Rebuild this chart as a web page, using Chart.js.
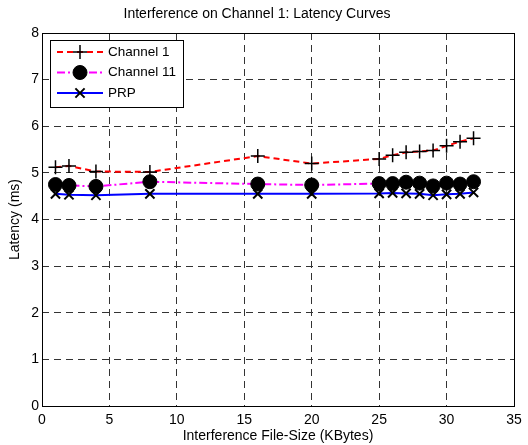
<!DOCTYPE html>
<html>
<head>
<meta charset="utf-8">
<script src="https://cdn.jsdelivr.net/npm/chart.js@4"></script>
<style>
  html, body { margin: 0; padding: 0; background: #fff; }
  #wrap { width: 528px; height: 445px; }
</style>
</head>
<body>
<div id="wrap"><canvas id="latencyChart" width="528" height="445"></canvas></div>
<script>
// file sizes (KBytes)
let fileSizes = [1, 2, 4, 8, 16, 20, 25, 26, 27, 28, 29, 30, 31, 32];
// latency values (ms)
let channel1 = [5.12, 5.15, 5.03, 5.02, 5.36, 5.2, 5.3, 5.38, 5.44, 5.46, 5.48, 5.58, 5.67, 5.74];
let channel11 = [4.75, 4.73, 4.71, 4.81, 4.76, 4.74, 4.77, 4.77, 4.8, 4.78, 4.72, 4.78, 4.76, 4.81];
let prp = [4.55, 4.53, 4.52, 4.55, 4.55, 4.55, 4.56, 4.57, 4.56, 4.55, 4.52, 4.54, 4.55, 4.58];
let seriesNames = ['Channel 1', 'Channel 11', 'PRP'];

let xTicks = [0, 5, 10, 15, 20, 25, 30, 35];
let yTicks = [0, 1, 2, 3, 4, 5, 6, 7, 8];

const FONT = 'Liberation Sans, Arial, sans-serif';

function pts(ys) {
  return fileSizes.map((x, i) => ({ x: x, y: ys[i] }));
}

// marker in black, like the plotted points
function marker(ctx, ds, x, y) {
  ctx.save();
  ctx.strokeStyle = '#000';
  ctx.fillStyle = '#000';
  ctx.lineWidth = ds.pointBorderWidth;
  Chart.helpers.drawPoint(ctx, { pointStyle: ds.pointStyle, radius: ds.pointRadius, borderWidth: ds.pointBorderWidth, rotation: 0 }, x, y);
  ctx.restore();
}

// box around plot area + legend with line samples and markers
const boxAndLegend = {
  id: 'boxAndLegend',
  afterDraw(chart) {
    const ctx = chart.ctx;
    const a = chart.chartArea;
    ctx.save();
    ctx.strokeStyle = '#000';
    ctx.lineWidth = 1;
    ctx.setLineDash([]);
    ctx.strokeRect(a.left + 0.5, a.top + 0.5, a.right - a.left, a.bottom - a.top);

    const lx = a.left + 8, ly = a.top + 7, lw = 133, lh = 67;
    ctx.fillStyle = '#fff';
    ctx.fillRect(lx, ly, lw, lh);
    ctx.strokeRect(lx + 0.5, ly + 0.5, lw, lh);
    ctx.font = '13.5px ' + FONT;
    ctx.textBaseline = 'middle';
    chart.data.datasets.forEach((ds, i) => {
      const yy = ly + 12 + i * 20.5;
      ctx.strokeStyle = ds.borderColor;
      ctx.lineWidth = ds.borderWidth;
      ctx.setLineDash(ds.borderDash || []);
      ctx.beginPath();
      ctx.moveTo(lx + 7, yy);
      ctx.lineTo(lx + 53, yy);
      ctx.stroke();
      ctx.setLineDash([]);
      marker(ctx, ds, lx + 30, yy);
      ctx.fillStyle = '#000';
      ctx.fillText(ds.label, lx + 58, yy);
    });
    ctx.restore();
  }
};

new Chart(document.getElementById('latencyChart').getContext('2d'), {
  type: 'line',
  data: {
    datasets: [{
      label: seriesNames[0],
      data: pts(channel1),
      borderColor: '#ff0000',
      borderWidth: 2,
      borderDash: [6, 4],
      pointStyle: 'cross',
      pointRadius: 7,
      pointBorderWidth: 1.5,
      pointBorderColor: '#000',
      pointBackgroundColor: '#000'
    }, {
      label: seriesNames[1],
      data: pts(channel11),
      borderColor: '#ff00ff',
      borderWidth: 2,
      borderDash: [8, 3, 2, 3],
      pointStyle: 'circle',
      pointRadius: 7,
      pointBorderWidth: 1,
      pointBorderColor: '#000',
      pointBackgroundColor: '#000'
    }, {
      label: seriesNames[2],
      data: pts(prp),
      borderColor: '#0000ff',
      borderWidth: 2,
      borderDash: [],
      pointStyle: 'crossRot',
      pointRadius: 6.5,
      pointBorderWidth: 2,
      pointBorderColor: '#000',
      pointBackgroundColor: '#000'
    }]
  },
  options: {
    responsive: false,
    animation: false,
    layout: { padding: { left: 0, right: 14, top: 0, bottom: 0 } },
    plugins: {
      legend: { display: false },
      tooltip: { enabled: false },
      title: {
        display: true,
        text: 'Interference on Channel 1: Latency Curves',
        color: '#000',
        font: { family: FONT, size: 14, weight: 'normal' },
        padding: { top: 6, bottom: 10.2 }
      }
    },
    scales: {
      x: {
        type: 'linear',
        min: 0,
        max: 35,
        afterBuildTicks: s => { s.ticks = xTicks.map(v => ({ value: v })); },
        afterFit: s => { s.height = 39; },
        ticks: { color: '#000', font: { family: FONT, size: 14 }, padding: 6 },
        grid: { color: '#333', lineWidth: 1, drawTicks: false },
        border: { display: false, dash: [7, 5] },
        title: {
          display: true,
          text: 'Interference File-Size (KBytes)',
          color: '#000',
          font: { family: FONT, size: 14 },
          padding: { top: 0, bottom: 0 }
        }
      },
      y: {
        type: 'linear',
        min: 0,
        max: 8,
        afterBuildTicks: s => { s.ticks = yTicks.map(v => ({ value: v })); },
        afterFit: s => { s.width = 42; },
        ticks: { color: '#000', font: { family: FONT, size: 14 }, padding: 3 },
        grid: { color: '#333', lineWidth: 1, drawTicks: false },
        border: { display: false, dash: [7, 5] },
        title: {
          display: true,
          text: 'Latency (ms)',
          color: '#000',
          font: { family: FONT, size: 14 },
          padding: { top: 6.5, bottom: 0 }
        }
      }
    }
  },
  plugins: [boxAndLegend]
});
</script>
</body>
</html>
